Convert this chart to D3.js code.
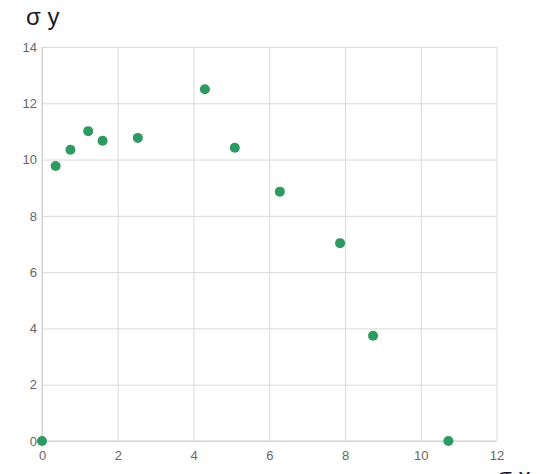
<!DOCTYPE html>
<html>
<head>
<meta charset="utf-8">
<script src="https://cdn.jsdelivr.net/npm/d3@7"></script>
<style>
  html, body { margin: 0; padding: 0; background: #fff; overflow: hidden; }
  svg { display: block; }
  .tick text { font-family: "Liberation Sans", Arial, sans-serif; font-size: 13px; fill: #666; }
</style>
</head>
<body>
<svg id="chart" width="543" height="474"></svg>
<script>
// σ x / σ y measurements
const sigmaX = [0, 0.36, 0.75, 1.22, 1.60, 2.53, 4.30, 5.09, 6.28, 7.87, 8.74, 10.73];
const sigmaY = [0, 9.77, 10.35, 11.01, 10.67, 10.77, 12.50, 10.42, 8.86, 7.03, 3.74, 0];
const xTicks = [0, 2, 4, 6, 8, 10, 12];
const yTicks = [0, 2, 4, 6, 8, 10, 12, 14];

const svg = d3.select("#chart");
const plot = { left: 42, right: 496.5, top: 47, bottom: 441 };

const x = d3.scaleLinear().domain([0, 12]).range([plot.left, plot.right]);
const y = d3.scaleLinear().domain([0, 14]).range([plot.bottom, plot.top]);

const gridColor = "#d9d9d9";

// vertical grid + x tick labels
svg.append("g")
  .attr("transform", `translate(0,${plot.bottom})`)
  .call(d3.axisBottom(x).tickValues(xTicks).tickSize(-(plot.bottom - plot.top)).tickPadding(10).tickFormat(d3.format("d")))
  .call(g => g.select(".domain").remove())
  .call(g => g.selectAll(".tick line").attr("stroke", gridColor));

// horizontal grid + y tick labels
svg.append("g")
  .attr("transform", `translate(${plot.left},0)`)
  .call(d3.axisLeft(y).tickValues(yTicks).tickSize(-(plot.right - plot.left)).tickPadding(5).tickFormat(d3.format("d")))
  .call(g => g.select(".domain").remove())
  .call(g => g.selectAll(".tick line").attr("stroke", gridColor));

// axis lines
svg.append("line").attr("x1", plot.left).attr("x2", plot.left).attr("y1", plot.top).attr("y2", plot.bottom)
  .attr("stroke", "#cfcfcf");
svg.append("line").attr("x1", plot.left).attr("x2", plot.right).attr("y1", plot.bottom).attr("y2", plot.bottom)
  .attr("stroke", "#cfcfcf");

// points
svg.append("g").selectAll("circle")
  .data(sigmaX.map((v, i) => [v, sigmaY[i]]))
  .join("circle")
  .attr("cx", d => x(d[0]))
  .attr("cy", d => y(d[1]))
  .attr("r", 5)
  .attr("fill", "#2e9a62");

// axis titles
svg.append("text")
  .attr("x", 26).attr("y", 25)
  .attr("font-family", "Liberation Sans, Arial, sans-serif")
  .attr("font-size", 24)
  .attr("fill", "#1a1a2a")
  .text("σ y");

svg.append("text")
  .attr("x", 497).attr("y", 485)
  .attr("font-family", "Liberation Sans, Arial, sans-serif")
  .attr("font-size", 24)
  .attr("fill", "#1a1a2a")
  .text("σ x");
</script>
</body>
</html>
